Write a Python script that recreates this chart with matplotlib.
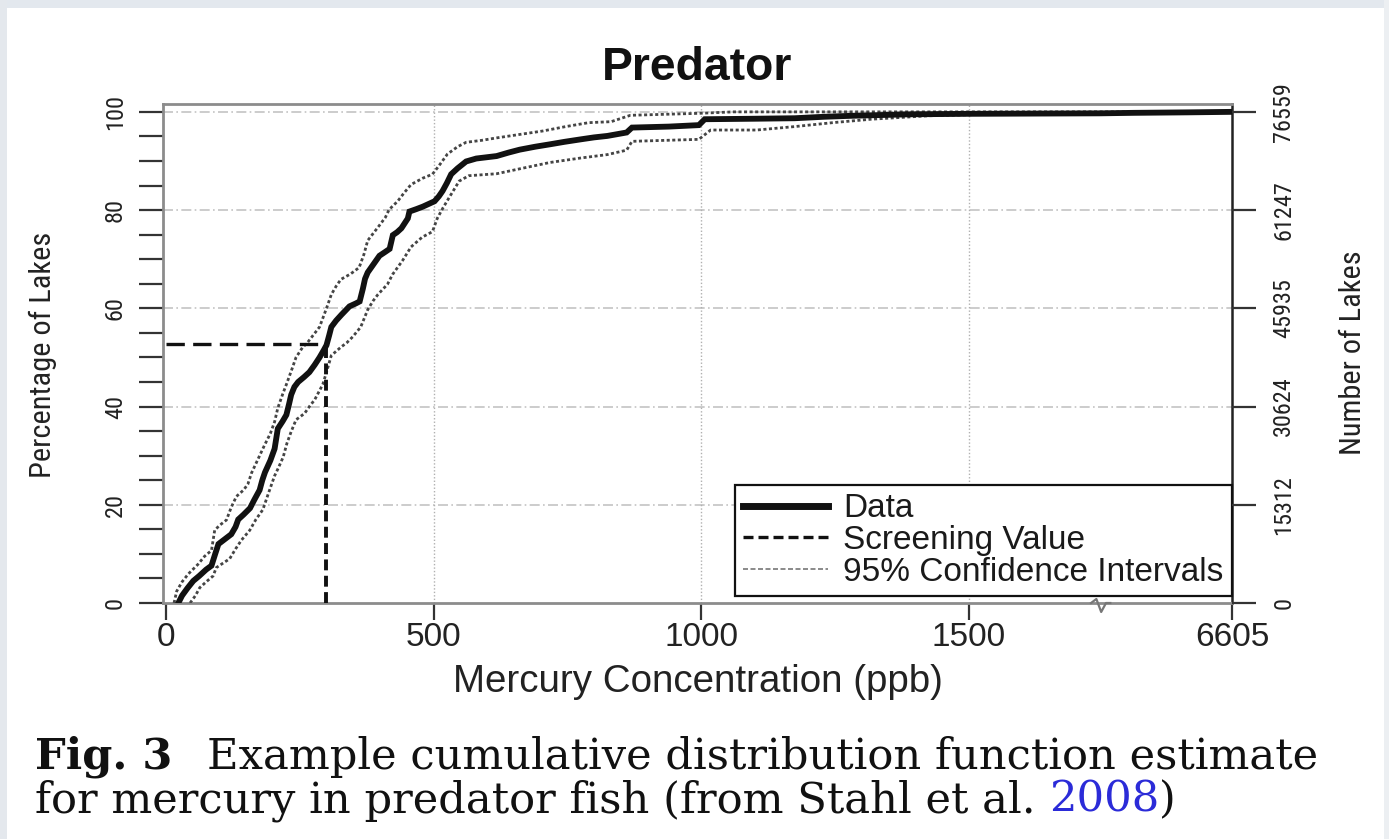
import numpy as np
import matplotlib
matplotlib.use("Agg")
import matplotlib.pyplot as plt
from matplotlib import font_manager
from matplotlib.font_manager import FontProperties
from matplotlib.lines import Line2D
from matplotlib.patches import Rectangle
import matplotlib.transforms as mtransforms

# Empirical CDF of mercury in predator fish (ppb vs % of lakes)
data_ppb = [23, 30, 40, 51, 62, 75, 85, 92, 98, 110, 122, 130, 135, 145, 157, 165,
            175, 180, 185, 195, 203, 209, 218, 225, 230, 234, 240, 247, 258, 268,
            278, 287, 295, 300, 305, 309, 318, 328, 343, 355, 362, 368, 372, 377,
            388, 399, 410, 418, 424, 432, 440, 452, 455, 468, 480, 490, 502, 510,
            517, 525, 533, 545, 561, 580, 618, 640, 661, 690, 718, 745, 775, 800,
            825, 861, 871, 940, 996, 1007, 1100, 1175, 1230, 1282, 1389, 1500,
            1745, 3000, 5000, 6605]
data_pct = [0, 1.5, 3, 4.5, 5.5, 6.8, 7.6, 10, 12, 13, 14, 15.5, 17, 18, 19.3, 21,
            23, 25, 26.6, 29, 31.4, 35.5, 37, 38.3, 40.5, 42.4, 44, 45, 46, 47,
            48.5, 50, 51.5, 52.5, 54.5, 56.2, 57.5, 58.7, 60.4, 61, 61.4, 64, 66, 67.3,
            69, 70.7, 71.5, 72.1, 74.9, 75.5, 76.3, 78.3, 79.7, 80.2, 80.7, 81.2, 81.8, 82.8,
            83.9, 85.5, 87.3, 88.5, 89.9, 90.5, 91.0, 91.7, 92.3, 92.9, 93.4, 93.9, 94.4, 94.8,
            95.1, 95.8, 96.8, 97.0, 97.3, 98.5, 98.6, 98.7, 99.0, 99.2, 99.5, 99.6,
            99.7, 99.8, 99.9, 100]

upper_ppb = [15, 20, 30, 41.6, 60, 72, 85, 91, 100, 113, 122, 131.6, 145, 153, 160,
             169, 184, 195, 203, 209, 218, 225, 235, 243, 255, 265, 287, 300, 309,
             318, 327, 345, 361, 370, 377, 399, 410, 417, 433, 445, 458, 480, 498,
             510, 526, 545, 561, 590, 618, 661, 704, 747, 790, 832, 868, 996, 1061, 6605]
upper_pct = [0, 2.4, 4.3, 5.9, 7.9, 9.5, 10.7, 14.8, 15.8, 16.9, 19.5, 21.7, 23, 24.2, 26.5,
             28.6, 32.1, 34.5, 36.9, 39.7, 42.5, 44.5, 47.5, 50, 52, 53.1, 56.2, 60, 62.8,
             64.5, 65.9, 67, 68.3, 71, 73.8, 76.9, 78.5, 80.1, 81.8, 83.5, 85.2, 86.5, 87.3,
             89, 91.4, 92.9, 93.8, 94.2, 94.7, 95.4, 96.1, 97.0, 97.8, 98.0, 99.3, 99.7, 100, 100]

lower_ppb = [45, 55, 63, 75, 88, 94, 105, 119, 130, 141, 156.5, 168, 181, 192, 203, 210,
             219, 226, 234, 243, 259, 268, 278, 293, 300, 309, 327, 338, 349, 364, 377,
             387, 396, 414, 423.5, 442, 458, 479, 498, 507, 518, 529, 548, 566, 618, 661,
             718, 775, 825, 861, 871, 996, 1018, 1104, 1175, 1246, 1318, 1425, 1532, 1745, 6605]
lower_pct = [0, 1.5, 3.1, 4.3, 5.5, 7.2, 8, 9.0, 11, 12.8, 14.8, 17, 19, 22.5, 25.9, 27.5,
             29.7, 32.5, 34.9, 37.3, 38.6, 40, 41.4, 44.5, 47, 50.4, 52.1, 53, 54.2, 56.2, 59.7,
             61.5, 62.8, 64.9, 66.9, 69.7, 72.5, 74.5, 75.6, 78.3, 80.5, 82.5, 85.9, 87, 87.4, 88.4,
             89.7, 90.6, 91.3, 92.2, 94.0, 94.4, 96.3, 96.3, 97.0, 97.8, 98.5, 99.2, 99.5, 99.7, 100]

screen_value = 300
screen_pct = 52.8

x_ticks = [0, 500, 1000, 1500, 6605]
pct_ticks = [0, 20, 40, 60, 80, 100]
n_lakes = 76559

# broken x axis: linear up to the break, squeezed afterwards
x_break = 1745
x_max = 6605
x_max_pos = 1992.5
squeeze = (x_max_pos - x_break) / (x_max - x_break)


def fwd(x):
    x = np.asarray(x, dtype=float)
    return np.where(x <= x_break, x, x_break + (x - x_break) * squeeze)


def inv(u):
    u = np.asarray(u, dtype=float)
    return np.where(u <= x_break, u, x_break + (u - x_break) / squeeze)


def pick_narrow_font():
    """Look for a condensed sans face; fall back to Liberation Sans."""
    prefer = ['Liberation Sans Narrow', 'Roboto Condensed', 'DejaVu Sans',
              'Noto Sans', 'Open Sans', 'Arial Narrow']
    found = {}
    for f in font_manager.fontManager.ttflist:
        narrowish = ('Narrow' in f.name or 'Condensed' in f.name
                     or str(f.stretch) in ('condensed', 'semi-condensed'))
        plain = str(f.weight) in ('400', 'normal', 'regular', 'book') and f.style == 'normal'
        if narrowish and plain:
            found.setdefault(f.name, f.fname)
    for name in prefer:
        if name in found:
            return FontProperties(fname=found[name])
    if found:
        return FontProperties(fname=sorted(found.values())[0])
    return FontProperties(family='Liberation Sans')


narrow_fp = pick_narrow_font()
sans = 'Liberation Sans'
serif = 'DejaVu Serif'

W, H = 1389, 839
fig = plt.figure(figsize=(W / 100, H / 100), dpi=100)
fig.patch.set_facecolor('white')
renderer = fig.canvas.get_renderer()


def fit_width(t, target_px):
    w = t.get_window_extent(renderer).width
    t.set_fontsize(t.get_fontsize() * target_px / w)


def fit_height(t, target_px):
    h = t.get_window_extent(renderer).height
    t.set_fontsize(t.get_fontsize() * target_px / h)


# thin window-like border strips
fig.patches.append(Rectangle((0, 1 - 8 / H), 1, 8 / H, transform=fig.transFigure,
                             facecolor='#e3e8ee', edgecolor='none'))
fig.patches.append(Rectangle((0, 0), 7 / W, 1, transform=fig.transFigure,
                             facecolor='#e4e8ed', edgecolor='none'))
fig.patches.append(Rectangle((1 - 5 / W, 0), 5 / W, 1, transform=fig.transFigure,
                             facecolor='#eceff2', edgecolor='none'))

ax_l, ax_r, ax_t, ax_b = 163, 1232, 104, 603
ax = fig.add_axes([ax_l / W, 1 - ax_b / H, (ax_r - ax_l) / W, (ax_b - ax_t) / H])
ax.set_xscale('function', functions=(fwd, inv))
ax.set_xlim(-5.6, x_max)
ax.set_ylim(0, 101.6)

# grid
for p in pct_ticks[1:]:
    ax.axhline(p, color='#c4c4c4', lw=1.2, ls=(0, (6, 2, 1, 2)), zorder=1)
for xv in x_ticks[1:4]:
    ax.axvline(xv, color='#b0b0b0', lw=1.0, ls=(0, (1, 1.5)), zorder=1)

ci_style = dict(color='#454545', lw=2.0, ls=(0, (1.1, 0.9)), zorder=3)
ax.plot(upper_ppb, upper_pct, **ci_style)
ax.plot(lower_ppb, lower_pct, **ci_style)
ax.plot(data_ppb, data_pct, color='#111111', lw=4.2, solid_joinstyle='miter', zorder=4)

ax.plot([0, screen_value], [screen_pct, screen_pct], color='#111111', lw=2.4,
        ls=(0, (5.5, 2.5)), zorder=5)
ax.plot([screen_value, screen_value], [0, screen_pct], color='#111111', lw=2.8,
        ls=(0, (2.8, 1.4)), zorder=5)

# spines
for side in ['left', 'top', 'bottom']:
    ax.spines[side].set_color('#8c8c8c')
    ax.spines[side].set_linewidth(2.0)
ax.spines['right'].set_color('#222222')
ax.spines['right'].set_linewidth(1.8)

# break mark on the x axis (offsets in unsqueezed units so both halves stay visible)
trans = mtransforms.blended_transform_factory(ax.transData, ax.transAxes)
zx = inv(x_break + np.array([-16, -6, 3, 12, 20]))
zy = [0, 0.008, -0.018, 0.0, 0]
ax.plot(zx, zy, color='#777777', lw=1.6, transform=trans, clip_on=False, zorder=6)

ax.set_xticks(x_ticks)
ax.set_xticklabels([str(v) for v in x_ticks], fontsize=24, family=sans, color='#222222')
ax.tick_params(axis='x', direction='out', length=12, width=1.6, pad=2, color='#333333')

ax.set_yticks(pct_ticks)
ax.set_yticks(np.arange(0, 101, 5), minor=True)
ax.set_yticklabels([str(v) for v in pct_ticks], rotation=90, va='center', color='#222222')
ax.tick_params(axis='y', which='both', direction='out', length=17, width=1.6, pad=9,
               color='#333333')

ax2 = ax.twinx()
ax2.set_ylim(ax.get_ylim())
ax2.set_yticks(pct_ticks)
ax2.set_yticklabels([str(int(round(n_lakes * p / 100))) for p in pct_ticks],
                    rotation=90, va='center', color='#222222')
ax2.tick_params(axis='y', direction='out', length=17, width=1.6, pad=12, color='#333333')
for side in ['left', 'top', 'bottom', 'right']:
    ax2.spines[side].set_visible(False)

# rotated tick labels in the narrow face, sized so "76559" spans ~60 px
right_labels = ax2.get_yticklabels()
left_labels = ax.get_yticklabels()
for t in right_labels + left_labels:
    t.set_fontproperties(narrow_fp)
    t.set_fontsize(17)
fit_height(right_labels[-1], 60)
for t in right_labels + left_labels:
    t.set_fontsize(right_labels[-1].get_fontsize())

# legend: rows ~31 px apart without the label boxes overlapping
probe = fig.text(0, 0, 'Data', family=sans, fontsize=24)
fit_height(probe, 31)
leg_fs = probe.get_fontsize()
probe.remove()
fs_px = leg_fs * 100 / 72
handles = [Line2D([], [], color='#111111', lw=5),
           Line2D([], [], color='#111111', lw=2.4, ls=(0, (3, 1.5))),
           Line2D([], [], color='#777777', lw=1.2, ls=(0, (3, 1.5)))]
labels = ['Data', 'Screening Value', '95% Confidence Intervals']
leg = ax.legend(handles, labels, loc='lower right', bbox_to_anchor=(1.0, 0.014),
                borderaxespad=0, frameon=True, fancybox=False, framealpha=1,
                edgecolor='#111111', handlelength=85 / fs_px, handletextpad=15 / fs_px,
                labelspacing=0.02, borderpad=0.25,
                prop={'family': sans, 'size': leg_fs})
leg.get_frame().set_linewidth(1.6)
leg.set_zorder(10)
for t in leg.get_texts():
    t.set_color('#1a1a1a')

# titles and axis labels
cx = (ax_l + ax_r) / 2 / W
title = fig.text(cx, 1 - 68 / H, 'Predator', ha='center', va='center', fontsize=30,
                 fontweight='bold', family=sans, color='#111111')
fit_width(title, 190)
xlab = fig.text(cx, 1 - 682 / H, 'Mercury Concentration (ppb)', ha='center', va='center',
                fontsize=25, family=sans, color='#222222')
fit_width(xlab, 491)
ylab = fig.text(43 / W, 1 - 355 / H, 'Percentage of Lakes', ha='center', va='center',
                rotation=90, fontproperties=narrow_fp, color='#222222')
ylab.set_fontsize(23)
fit_height(ylab, 246)
rlab = fig.text(1353 / W, 1 - 353 / H, 'Number of Lakes', ha='center', va='center',
                rotation=90, fontproperties=narrow_fp, color='#222222')
rlab.set_fontsize(ylab.get_fontsize())

# caption, placed piece by piece on shared baselines
line2 = 'for mercury in predator fish (from Stahl et al. 2008)'
probe = fig.text(0, 0, line2, family=serif, fontsize=27)
fit_width(probe, 1142)
cap_size = probe.get_fontsize()
probe.remove()

y1 = 1 - 769 / H
y2 = 1 - 812 / H
fig.text(35 / W, y1, 'Fig. 3', fontsize=cap_size, fontweight='bold', family=serif,
         va='baseline', color='#111111')
fig.text(207 / W, y1, 'Example cumulative distribution function estimate',
         fontsize=cap_size, family=serif, va='baseline', color='#111111')
t = fig.text(35 / W, y2, 'for mercury in predator fish (from Stahl et al. ',
             fontsize=cap_size, family=serif, va='baseline', color='#111111')
x_next = t.get_window_extent(renderer).x1 / W
t = fig.text(x_next, y2, '2008', fontsize=cap_size, family=serif, va='baseline',
             color='#2b2bd8')
x_next = t.get_window_extent(renderer).x1 / W
fig.text(x_next, y2, ')', fontsize=cap_size, family=serif, va='baseline', color='#111111')

fig.savefig('out.png', dpi=100)
